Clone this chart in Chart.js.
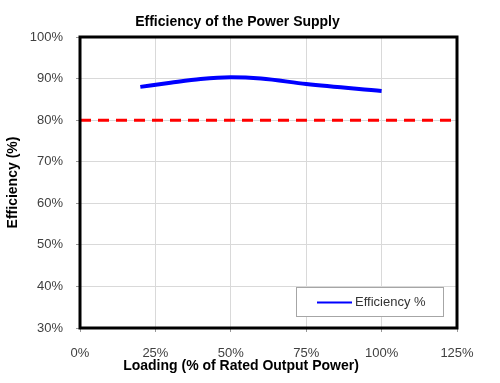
<!DOCTYPE html>
<html>
<head>
<meta charset="utf-8">
<script src="https://cdn.jsdelivr.net/npm/chart.js@4.4.0/dist/chart.umd.min.js"></script>
<style>
  html, body { margin: 0; padding: 0; background: #fff; }
  #wrap { width: 500px; height: 383px; }
</style>
</head>
<body>
<div id="wrap"><canvas id="effChart" width="500" height="383"></canvas></div>
<script>
// Dane wykresu
const loadingPct = [20, 30, 40, 50, 60, 75, 100];
const efficiencyPct = [88.0, 89.0, 89.9, 90.3, 90.0, 88.7, 87.0];
const limitX = [0, 125];
const limitY = [80, 80];
const xTicks = [0, 25, 50, 75, 100, 125];
const yTicks = [30, 40, 50, 60, 70, 80, 90, 100];
const xTitle = "Loading (% of Rated Output Power)";

const FONT = "'Liberation Sans', Arial, sans-serif";

// Ramka obszaru wykresu, tytuł osi X i legenda w środku
const framePlugin = {
  id: "frame",
  afterLayout(chart) {
    // tytuł wyśrodkowany nieco bardziej w prawo, jak w oryginale
    if (chart.titleBlock) chart.titleBlock.left = 18;
  },
  afterDatasetsDraw(chart) {
    const { ctx, chartArea: a } = chart;
    ctx.save();
    ctx.strokeStyle = "#000";
    ctx.lineWidth = 3;
    ctx.strokeRect(a.left, a.top, a.right - a.left, a.bottom - a.top);

    // legenda
    const bx = 296, by = 287, bw = 147, bh = 29;
    ctx.fillStyle = "#fff";
    ctx.fillRect(bx, by, bw, bh);
    ctx.strokeStyle = "#a6a6a6";
    ctx.lineWidth = 1;
    ctx.strokeRect(bx + 0.5, by + 0.5, bw, bh);
    ctx.strokeStyle = "#0000ff";
    ctx.lineWidth = 2;
    ctx.beginPath();
    ctx.moveTo(317, 302.5);
    ctx.lineTo(352, 302.5);
    ctx.stroke();
    ctx.fillStyle = "#333";
    ctx.font = "13px " + FONT;
    ctx.textBaseline = "middle";
    ctx.fillText(chart.data.datasets[0].label, 355, 302);

    // tytuł osi X (przesunięty w lewo względem środka obszaru)
    ctx.fillStyle = "#000";
    ctx.font = "bold 14px " + FONT;
    ctx.textAlign = "center";
    ctx.fillText(xTitle, 241, 366);
    ctx.restore();
  },
};

const ctx = document.getElementById("effChart").getContext("2d");
new Chart(ctx, {
  type: "line",
  data: {
    datasets: [
      {
        label: "Efficiency %",
        data: loadingPct.map((x, i) => ({ x, y: efficiencyPct[i] })),
        borderColor: "#0000ff",
        borderWidth: 4,
        pointRadius: 0,
        tension: 0.4,
        cubicInterpolationMode: "monotone",
        fill: false,
      },
      {
        label: "Limit",
        data: limitX.map((x, i) => ({ x, y: limitY[i] })),
        borderColor: "#ff0000",
        borderWidth: 3,
        borderDash: [11, 7],
        pointRadius: 0,
        fill: false,
      },
    ],
  },
  options: {
    responsive: false,
    animation: false,
    events: [],
    layout: { padding: { left: 0, right: 43, top: 0, bottom: 0 } },
    plugins: {
      legend: { display: false },
      tooltip: { enabled: false },
      title: {
        display: true,
        text: "Efficiency of the Power Supply",
        color: "#000",
        font: { family: FONT, size: 14, weight: "bold" },
        padding: { top: 13.6, bottom: 6.6 },
      },
    },
    scales: {
      x: {
        type: "linear",
        min: 0,
        max: 125,
        afterBuildTicks: (s) => { s.ticks = xTicks.map((v) => ({ value: v })); },
        afterFit: (s) => { s.height = 55; },
        grid: { color: "#d9d9d9", tickLength: 4, tickColor: "#999" },
        border: { display: false },
        ticks: {
          color: "#404040",
          font: { family: FONT, size: 13 },
          padding: 14,
          maxRotation: 0,
          callback: (v) => v + "%",
        },
        title: { display: false },
      },
      y: {
        min: 30,
        max: 100,
        afterBuildTicks: (s) => { s.ticks = yTicks.map((v) => ({ value: v })); },
        afterFit: (s) => { s.width = 80; },
        grid: { color: "#d9d9d9", tickLength: 4, tickColor: "#999" },
        border: { display: false },
        ticks: {
          color: "#404040",
          font: { family: FONT, size: 13 },
          padding: 13,
          callback: (v) => v + "%",
        },
        title: {
          display: true,
          text: "Efficiency (%)",
          color: "#000",
          font: { family: FONT, size: 14, weight: "bold" },
          padding: { top: 5, bottom: 0 },
        },
      },
    },
  },
  plugins: [framePlugin],
});
</script>
</body>
</html>
